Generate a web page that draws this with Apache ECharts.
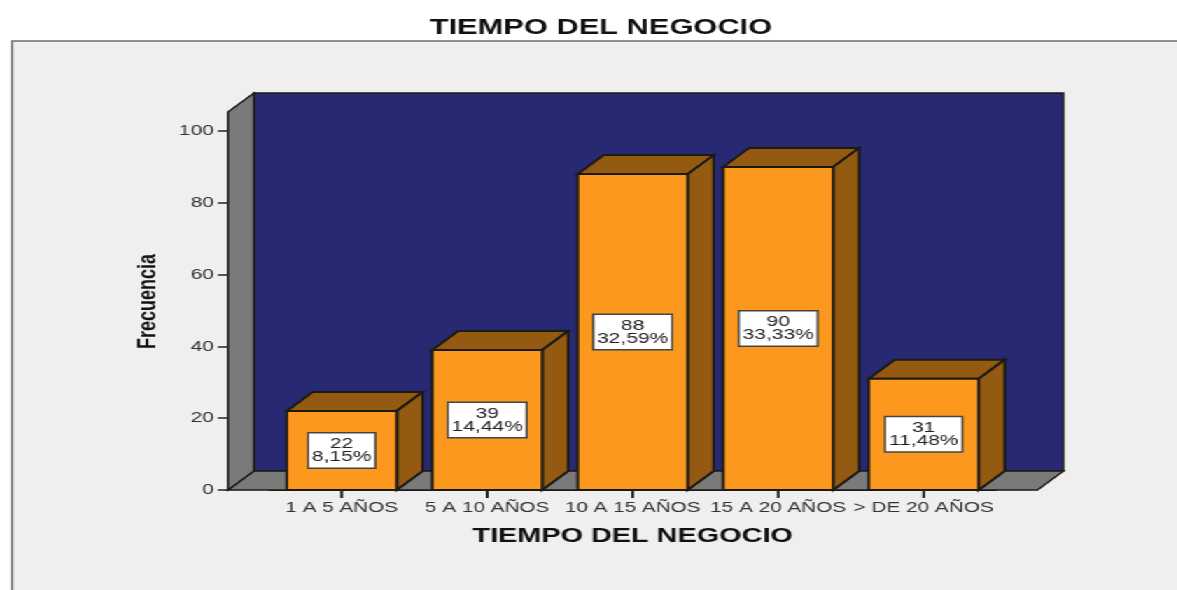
<!DOCTYPE html>
<html>
<head>
<meta charset="utf-8">
<title>TIEMPO DEL NEGOCIO</title>
<script src="https://cdn.jsdelivr.net/npm/echarts@6/dist/echarts.min.js"></script>
<style>
  html, body { margin: 0; padding: 0; background: #fff; overflow: hidden; }
  /* el original esta estirado en horizontal, texto incluido */
  #chart { width: 841px; height: 590px; transform: scaleX(1.4); transform-origin: 0 0; }
</style>
</head>
<body>
<div id="chart"></div>
<script>
var categories = ['1 A 5 AÑOS', '5 A 10 AÑOS', '10 A 15 AÑOS', '15 A 20 AÑOS', '> DE 20 AÑOS'];
var counts = [22, 39, 88, 90, 31];
var percents = ['8,15%', '14,44%', '32,59%', '33,33%', '11,48%'];
var yTicks = [0, 100, 20]; // min, max, interval
var wallTop = 105.3;

var SX = 1.4;
function px(x) { return x / SX; }

var DX = px(26), DY = -19; // profundidad 3D
var OVER = px(41);         // el suelo sobresale de las categorias
var LINE = '#1c1a14';

var chart = echarts.init(document.getElementById('chart'));

// paredes y suelo
function renderWalls(params, api) {
  var cs = params.coordSys;
  var x0 = cs.x - OVER, x1 = cs.x + cs.width + OVER;
  var y0 = api.coord([0, 0])[1];
  var yt = api.coord([0, wallTop])[1];
  var wallStyle = { fill: '#7a7a7a', stroke: LINE, lineWidth: 1.5 };
  return {
    type: 'group',
    children: [
      { type: 'polygon', shape: { points: [[x0 + DX, yt + DY], [x1 + DX, yt + DY], [x1 + DX, y0 + DY], [x0 + DX, y0 + DY]] },
        style: { fill: '#272a73', stroke: LINE, lineWidth: 1.5 } },
      { type: 'polygon', shape: { points: [[x0, y0], [x1, y0], [x1 + DX, y0 + DY], [x0 + DX, y0 + DY]] }, style: wallStyle },
      { type: 'polygon', shape: { points: [[x0, y0], [x0 + DX, y0 + DY], [x0 + DX, yt + DY], [x0, yt]] }, style: wallStyle }
    ]
  };
}

// barra 3D con su etiqueta
function renderBar(params, api) {
  var i = api.value(0), v = api.value(1);
  var top = api.coord([i, v]);
  var base = api.coord([i, 0]);
  var w = px(110);
  var l = top[0] - w / 2, r = top[0] + w / 2;
  var edge = { stroke: LINE, lineWidth: 2 };
  return {
    type: 'group',
    children: [
      { type: 'polygon', shape: { points: [[l, top[1]], [r, top[1]], [r + DX, top[1] + DY], [l + DX, top[1] + DY]] },
        style: Object.assign({ fill: '#955a12' }, edge) },
      { type: 'polygon', shape: { points: [[r, top[1]], [r + DX, top[1] + DY], [r + DX, base[1] + DY], [r, base[1]]] },
        style: Object.assign({ fill: '#955a12' }, edge) },
      { type: 'rect', shape: { x: l, y: top[1], width: w, height: base[1] - top[1] },
        style: Object.assign({ fill: '#fb981d' }, edge) },
      { type: 'text', x: top[0], y: (top[1] + base[1]) / 2,
        style: {
          text: v + '\n' + percents[i],
          fill: '#222', font: '15px "Liberation Sans"', lineHeight: 13,
          align: 'center', verticalAlign: 'middle',
          backgroundColor: '#fff', borderColor: '#444', borderWidth: 1.5,
          padding: [5, 2, 3, 2]
        } }
    ]
  };
}

// marca del eje, centrada en la categoria
function renderTick(params, api) {
  var base = api.coord([api.value(0), 0]);
  return { type: 'rect', shape: { x: base[0] - 1, y: base[1], width: 2, height: 8 }, style: { fill: '#222' } };
}

var option = {
  animation: false,
  backgroundColor: 'transparent',
  textStyle: { fontFamily: '"Liberation Sans"' },
  title: {
    text: 'TIEMPO DEL NEGOCIO',
    left: px(594), top: 12, textAlign: 'center',
    textStyle: { fontSize: 22, fontWeight: 'bold', color: '#111' }
  },
  graphic: [{
    type: 'rect', z: -10, silent: true,
    shape: { x: px(12), y: 41, width: 900, height: 600 },
    style: { fill: '#efefef', stroke: '#6e6e6e', lineWidth: 1.5 }
  }],
  grid: { left: px(269), width: px(727.5), top: 131, height: 359 },
  xAxis: {
    type: 'category',
    data: categories,
    name: 'TIEMPO DEL NEGOCIO',
    nameLocation: 'middle',
    nameGap: 36,
    nameTextStyle: { fontSize: 20.6, fontWeight: 'bold', color: '#111' },
    axisLine: { show: true, lineStyle: { color: '#222' } },
    axisTick: { show: false },
    axisLabel: { fontSize: 14.8, color: '#333', margin: 10, interval: 0, hideOverlap: false }
  },
  yAxis: {
    type: 'value',
    min: yTicks[0], max: yTicks[1], interval: yTicks[2],
    offset: OVER,
    name: 'Frecuencia',
    nameLocation: 'middle',
    nameGap: 48,
    nameTextStyle: { fontSize: 18, fontWeight: 'bold', color: '#111', padding: [0, 0, 0, 18] },
    splitLine: { show: false },
    axisLine: { show: true, lineStyle: { color: '#222' } },
    axisTick: { show: true, length: px(10), lineStyle: { color: '#222', width: 1.5 } },
    axisLabel: { fontSize: 15, color: '#333', margin: px(14) }
  },
  series: [
    { type: 'custom', z: 1, silent: true, renderItem: renderWalls, data: [[0, 0]], encode: { x: 0, y: 1 } },
    { type: 'custom', z: 2, silent: true, renderItem: renderBar,
      data: counts.map(function (v, i) { return [i, v]; }), encode: { x: 0, y: 1 } },
    { type: 'custom', zlevel: 1, silent: true, renderItem: renderTick,
      data: counts.map(function (v, i) { return [i, 0]; }), encode: { x: 0, y: 1 } }
  ]
};
chart.setOption(option);
</script>
</body>
</html>
